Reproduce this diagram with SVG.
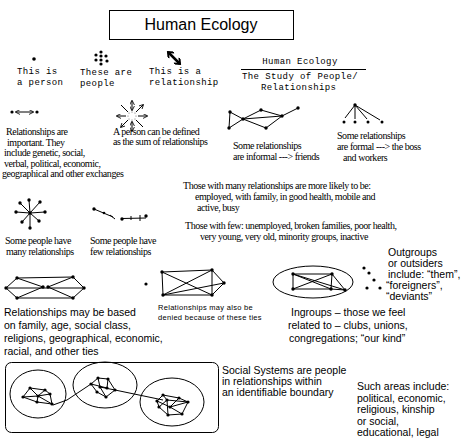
<svg xmlns="http://www.w3.org/2000/svg" width="467" height="444" viewBox="0 0 467 444">
<defs>
<marker id="ah" viewBox="0 0 6 6" refX="5" refY="3" markerWidth="5" markerHeight="5" orient="auto-start-reverse" markerUnits="userSpaceOnUse"><path d="M0,0 L6,3 L0,6" fill="none" stroke="#000" stroke-width="1"/></marker>
<marker id="bh" viewBox="0 0 10 10" refX="8" refY="5" markerWidth="8" markerHeight="8" orient="auto-start-reverse" markerUnits="userSpaceOnUse"><path d="M2,0 L8,5 L2,10" fill="none" stroke="#000" stroke-width="2.5"/></marker>
</defs>
<style>
.n{fill:#000}
.e{stroke:#000;stroke-width:1;fill:none}
.mono{font-family:"Liberation Mono",monospace;font-size:9px;letter-spacing:0.4px;fill:#000}
.ser{font-family:"Liberation Serif",serif;font-size:10px;letter-spacing:-0.45px;fill:#000}
.sans{font-family:"Liberation Sans",Arial,sans-serif;font-size:10.5px;fill:#000}
.small{font-family:"Liberation Sans",Arial,sans-serif;font-size:7.5px;letter-spacing:0.3px;fill:#000}
</style>
<rect width="467" height="444" fill="#fff"/>

<g id="title">
<rect x="109.5" y="10.5" width="184" height="29" fill="none" stroke="#000"/>
<text x="201" y="30" text-anchor="middle" font-family="Liberation Sans, Arial, sans-serif" font-size="16">Human Ecology</text>
</g>

<g id="person">
<circle class="n" cx="34" cy="59" r="1.8"/>
<text class="mono" x="17" y="74">This is</text>
<text class="mono" x="17" y="85">a person</text>
</g>

<g id="people">
<circle class="n" cx="101" cy="52" r="1.6"/>
<circle class="n" cx="96" cy="55" r="1.6"/>
<circle class="n" cx="101" cy="56" r="1.6"/>
<circle class="n" cx="106" cy="56" r="1.6"/>
<circle class="n" cx="96" cy="60" r="1.6"/>
<circle class="n" cx="101" cy="60" r="1.6"/>
<circle class="n" cx="107" cy="61" r="1.6"/>
<circle class="n" cx="101" cy="64" r="1.6"/>
<text class="mono" x="80" y="75">These are</text>
<text class="mono" x="80" y="86">people</text>
</g>

<g id="relationship">
<line x1="168" y1="52" x2="180" y2="64" stroke="#000" stroke-width="2.5" marker-start="url(#bh)" marker-end="url(#bh)"/>
<text class="mono" x="149" y="74">This is a</text>
<text class="mono" x="149" y="85">relationship</text>
</g>

<g id="heading">
<text class="mono" x="300" y="64" text-anchor="middle">Human Ecology</text>
<line x1="241" y1="69.5" x2="366" y2="69.5" stroke="#000"/>
<text class="mono" x="242" y="79">The Study of People/</text>
<text class="mono" x="261" y="90">Relationships</text>
</g>

<g id="pair">
<circle class="n" cx="12" cy="112" r="1.6"/>
<circle class="n" cx="37" cy="112" r="1.6"/>
<line class="e" x1="16" y1="112" x2="33" y2="112" marker-start="url(#ah)" marker-end="url(#ah)"/>
<text class="ser" x="6" y="135">Relationships are</text>
<text class="ser" x="7" y="146">important.  They</text>
<text class="ser" x="4" y="156">include genetic, social,</text>
<text class="ser" x="4" y="167">verbal, political, economic,</text>
<text class="ser" x="2" y="177">geographical and other exchanges</text>
</g>

<g id="sum">
<g class="e" stroke-width="0.8">
<line x1="132" y1="110" x2="132" y2="101" marker-end="url(#ah)" marker-start="url(#ah)"/>
<line x1="132" y1="122" x2="132" y2="131" marker-end="url(#ah)" marker-start="url(#ah)"/>
<line x1="126" y1="116" x2="117" y2="116" marker-end="url(#ah)"/>
<line x1="138" y1="116" x2="147" y2="116" marker-end="url(#ah)"/>
<line x1="128" y1="112" x2="121" y2="105"/>
<line x1="136" y1="112" x2="143" y2="105" marker-end="url(#ah)"/>
<line x1="128" y1="120" x2="121" y2="127" marker-end="url(#ah)"/>
<line x1="136" y1="120" x2="143" y2="127"/>
</g>
<g fill="#666">
<circle cx="129" cy="113" r="0.6"/><circle cx="135" cy="113" r="0.6"/><circle cx="129" cy="119" r="0.6"/><circle cx="135" cy="119" r="0.6"/><circle cx="132" cy="112" r="0.6"/><circle cx="132" cy="120" r="0.6"/><circle cx="128" cy="116" r="0.6"/><circle cx="136" cy="116" r="0.6"/>
</g>
<text class="ser" x="113" y="135">A person can be defined</text>
<text class="ser" x="113" y="145">as the sum of relationships</text>
</g>

<g id="informal">
<g class="e">
<line x1="230" y1="112" x2="229" y2="128"/>
<line x1="230" y1="112" x2="243" y2="119"/>
<line x1="229" y1="128" x2="243" y2="119"/>
<line x1="243" y1="119" x2="261" y2="110"/>
<line x1="243" y1="119" x2="282" y2="116"/>
<line x1="243" y1="119" x2="266" y2="128"/>
<line x1="261" y1="110" x2="282" y2="116"/>
<line x1="266" y1="128" x2="282" y2="116"/>
<line x1="282" y1="116" x2="298" y2="108"/>
</g>
<circle class="n" cx="230" cy="112" r="1.7"/>
<circle class="n" cx="229" cy="128" r="1.7"/>
<circle class="n" cx="243" cy="119" r="1.7"/>
<circle class="n" cx="261" cy="110" r="1.7"/>
<circle class="n" cx="282" cy="116" r="1.7"/>
<circle class="n" cx="298" cy="108" r="1.7"/>
<circle class="n" cx="266" cy="128" r="1.7"/>
<text class="ser" x="233" y="149">Some relationships</text>
<text class="ser" x="233" y="160">are informal ---&gt; friends</text>
</g>

<g id="formal">
<g class="e">
<line x1="355" y1="105" x2="345" y2="118"/>
<line x1="355" y1="105" x2="355" y2="119"/>
<line x1="355" y1="105" x2="367" y2="119"/>
<line x1="355" y1="105" x2="380" y2="120"/>
</g>
<circle class="n" cx="355" cy="105" r="1.7"/>
<circle class="n" cx="344" cy="122" r="1.5"/>
<circle class="n" cx="355" cy="122" r="1.5"/>
<circle class="n" cx="368" cy="122" r="1.5"/>
<circle class="n" cx="382" cy="122" r="1.5"/>
<text class="ser" x="337" y="139">Some relationships</text>
<text class="ser" x="337" y="150">are formal ---&gt; the boss</text>
<text class="ser" x="343" y="161">and workers</text>
</g>

<g id="likely">
<text class="ser" x="183" y="189">Those with many relationships are more likely to be:</text>
<text class="ser" x="195" y="200">employed, with family, in good health, mobile and</text>
<text class="ser" x="197" y="211">active, busy</text>
<text class="ser" x="185" y="229">Those with few:  unemployed, broken families, poor health,</text>
<text class="ser" x="200" y="240">very young, very old, minority groups, inactive</text>
</g>

<g id="many">
<g class="e">
<line x1="30" y1="213" x2="29" y2="200"/>
<line x1="30" y1="213" x2="20" y2="203"/>
<line x1="30" y1="213" x2="40" y2="202"/>
<line x1="30" y1="213" x2="16" y2="212"/>
<line x1="30" y1="213" x2="45" y2="212"/>
<line x1="30" y1="213" x2="22" y2="222"/>
<line x1="30" y1="213" x2="39" y2="221"/>
<line x1="30" y1="213" x2="30" y2="228"/>
</g>
<circle class="n" cx="30" cy="213" r="1.7"/>
<circle class="n" cx="29" cy="200" r="1.7"/>
<circle class="n" cx="20" cy="203" r="1.7"/>
<circle class="n" cx="40" cy="202" r="1.7"/>
<circle class="n" cx="16" cy="212" r="1.7"/>
<circle class="n" cx="45" cy="212" r="1.7"/>
<circle class="n" cx="22" cy="222" r="1.7"/>
<circle class="n" cx="39" cy="221" r="1.7"/>
<circle class="n" cx="30" cy="228" r="1.7"/>
<text class="ser" x="5" y="244">Some people have</text>
<text class="ser" x="6" y="255">many relationships</text>
</g>

<g id="few">
<g class="e" stroke-width="1.5">
<line x1="94" y1="209" x2="113" y2="217"/>
<line x1="110" y1="215" x2="115" y2="219"/>
<line x1="122" y1="218.5" x2="146" y2="218"/>
<line x1="140" y1="215" x2="140" y2="221"/>
<line x1="131" y1="216" x2="131" y2="220"/>
</g>
<circle class="n" cx="94" cy="209" r="1.7"/>
<circle class="n" cx="104" cy="213" r="1.3"/>
<circle class="n" cx="122" cy="219" r="1.7"/>
<circle class="n" cx="146" cy="216" r="1.7"/>
<text class="ser" x="90" y="244">Some people have</text>
<text class="ser" x="90" y="255">few relationships</text>
</g>

<g id="based">
<g class="e">
<polyline points="17,278 73,277 84,288 73,298 17,298 6,288 17,278"/>
<line x1="6" y1="288" x2="84" y2="288"/>
<line x1="17" y1="278" x2="43" y2="287"/>
<line x1="17" y1="298" x2="43" y2="287"/>
<line x1="48" y1="287" x2="73" y2="277"/>
<line x1="48" y1="287" x2="73" y2="298"/>
</g>
<circle class="n" cx="6" cy="288" r="1.7"/>
<circle class="n" cx="17" cy="278" r="1.7"/>
<circle class="n" cx="17" cy="298" r="1.7"/>
<circle class="n" cx="43" cy="287" r="1.7"/>
<circle class="n" cx="48" cy="287" r="1.7"/>
<circle class="n" cx="73" cy="277" r="1.7"/>
<circle class="n" cx="73" cy="298" r="1.7"/>
<circle class="n" cx="84" cy="288" r="1.7"/>
<text class="sans" x="4" y="316">Relationships may be based</text>
<text class="sans" x="4" y="329">on family, age, social class,</text>
<text class="sans" x="4" y="342">religions, geographical, economic,</text>
<text class="sans" x="4" y="355">racial, and other ties</text>
</g>

<g id="isolated">
<circle class="n" cx="146" cy="284" r="1.6"/>
</g>

<g id="denied">
<g class="e">
<polygon points="162,272 212,270 212,295 163,295"/>
<line x1="162" y1="272" x2="212" y2="295"/>
<line x1="163" y1="295" x2="212" y2="270"/>
<line x1="163" y1="295" x2="224" y2="283"/>
<line x1="212" y1="270" x2="224" y2="283"/>
<line x1="212" y1="295" x2="224" y2="283"/>
</g>
<circle class="n" cx="162" cy="272" r="1.7"/>
<circle class="n" cx="212" cy="270" r="1.7"/>
<circle class="n" cx="163" cy="295" r="1.7"/>
<circle class="n" cx="212" cy="295" r="1.7"/>
<circle class="n" cx="224" cy="283" r="1.7"/>
<text class="small" x="158" y="310">Relationships may also be</text>
<text class="small" x="158" y="320">denied because of these ties</text>
</g>

<g id="ingroup">
<ellipse class="e" cx="313" cy="282" rx="40" ry="16"/>
<g class="e">
<polygon points="293,274 332,274 331,289 293,289"/>
<line x1="293" y1="274" x2="331" y2="289"/>
<line x1="293" y1="289" x2="332" y2="274"/>
<line x1="293" y1="274" x2="345" y2="290"/>
<line x1="332" y1="274" x2="345" y2="290"/>
<line x1="331" y1="289" x2="345" y2="290"/>
</g>
<circle class="n" cx="293" cy="274" r="1.7"/>
<circle class="n" cx="332" cy="274" r="1.7"/>
<circle class="n" cx="293" cy="289" r="1.7"/>
<circle class="n" cx="331" cy="289" r="1.7"/>
<circle class="n" cx="345" cy="290" r="1.7"/>
<text class="sans" x="291" y="316">Ingroups – those we feel</text>
<text class="sans" x="288" y="329">related to – clubs, unions,</text>
<text class="sans" x="289" y="342">congregations; “our kind”</text>
</g>

<g id="outgroup">
<circle class="n" cx="364" cy="268" r="1.6"/>
<circle class="n" cx="369" cy="273" r="1.6"/>
<circle class="n" cx="374" cy="280" r="1.6"/>
<circle class="n" cx="367" cy="288" r="1.6"/>
<circle class="n" cx="380" cy="288" r="1.6"/>
<text class="sans" x="388" y="256">Outgroups</text>
<text class="sans" x="388" y="267">or outsiders</text>
<text class="sans" x="388" y="278">include: “them”,</text>
<text class="sans" x="386" y="289">“foreigners”,</text>
<text class="sans" x="386" y="300">“deviants”</text>
</g>

<g id="system">
<rect x="5.5" y="362.5" width="213" height="70" rx="6" fill="none" stroke="#000"/>
<ellipse class="e" cx="38" cy="394" rx="28" ry="24"/>
<ellipse class="e" cx="105" cy="385" rx="32" ry="23"/>
<ellipse class="e" cx="172" cy="402" rx="32" ry="24"/>
<g class="e">
<line x1="53" y1="405" x2="67" y2="400"/>
<line x1="67" y1="400" x2="91" y2="384"/>
<line x1="115" y1="390" x2="163" y2="400"/>
<polyline points="30,388 45,390 50,394 52,404 37,402 23,397 30,388"/>
<line x1="23" y1="397" x2="38" y2="396"/>
<line x1="38" y1="396" x2="50" y2="394"/>
<line x1="30" y1="388" x2="38" y2="396"/>
<line x1="45" y1="390" x2="38" y2="396"/>
<line x1="38" y1="396" x2="37" y2="402"/>
<line x1="38" y1="396" x2="52" y2="404"/>
<polyline points="98,378 108,379 115,390 106,397 97,392 91,384 98,378"/>
<line x1="98" y1="378" x2="100" y2="387"/>
<line x1="108" y1="379" x2="107" y2="388"/>
<line x1="100" y1="387" x2="115" y2="390"/>
<line x1="91" y1="384" x2="107" y2="388"/>
<line x1="100" y1="387" x2="106" y2="397"/>
<polyline points="163,395 179,398 188,402 182,414 168,415 159,407 157,401 163,395"/>
<line x1="163" y1="395" x2="167" y2="400"/>
<line x1="167" y1="400" x2="188" y2="402"/>
<line x1="157" y1="401" x2="170" y2="407"/>
<line x1="170" y1="407" x2="182" y2="414"/>
<line x1="170" y1="407" x2="188" y2="402"/>
<line x1="167" y1="400" x2="168" y2="415"/>
<line x1="179" y1="398" x2="170" y2="407"/>
<line x1="159" y1="407" x2="167" y2="400"/>
</g>
<g class="n">
<circle cx="30" cy="388" r="1.6"/><circle cx="45" cy="390" r="1.6"/><circle cx="23" cy="397" r="1.6"/><circle cx="38" cy="396" r="1.6"/><circle cx="50" cy="394" r="1.6"/><circle cx="37" cy="402" r="1.6"/><circle cx="52" cy="404" r="1.6"/>
<circle cx="98" cy="378" r="1.6"/><circle cx="108" cy="379" r="1.6"/><circle cx="91" cy="384" r="1.6"/><circle cx="100" cy="387" r="1.6"/><circle cx="107" cy="388" r="1.6"/><circle cx="115" cy="390" r="1.6"/><circle cx="97" cy="392" r="1.6"/><circle cx="106" cy="397" r="1.6"/>
<circle cx="163" cy="395" r="1.6"/><circle cx="179" cy="398" r="1.6"/><circle cx="157" cy="401" r="1.6"/><circle cx="167" cy="400" r="1.6"/><circle cx="188" cy="402" r="1.6"/><circle cx="159" cy="407" r="1.6"/><circle cx="170" cy="407" r="1.6"/><circle cx="182" cy="414" r="1.6"/><circle cx="168" cy="415" r="1.6"/>
</g>
<text class="sans" x="222" y="374">Social Systems are people</text>
<text class="sans" x="222" y="385">in relationships within</text>
<text class="sans" x="222" y="396">an identifiable boundary</text>
</g>

<g id="areas">
<text class="sans" x="357" y="390">Such areas include:</text>
<text class="sans" x="357" y="401.5">political, economic,</text>
<text class="sans" x="357" y="413">religious, kinship</text>
<text class="sans" x="357" y="424.5">or social,</text>
<text class="sans" x="357" y="436">educational, legal</text>
</g>
</svg>
